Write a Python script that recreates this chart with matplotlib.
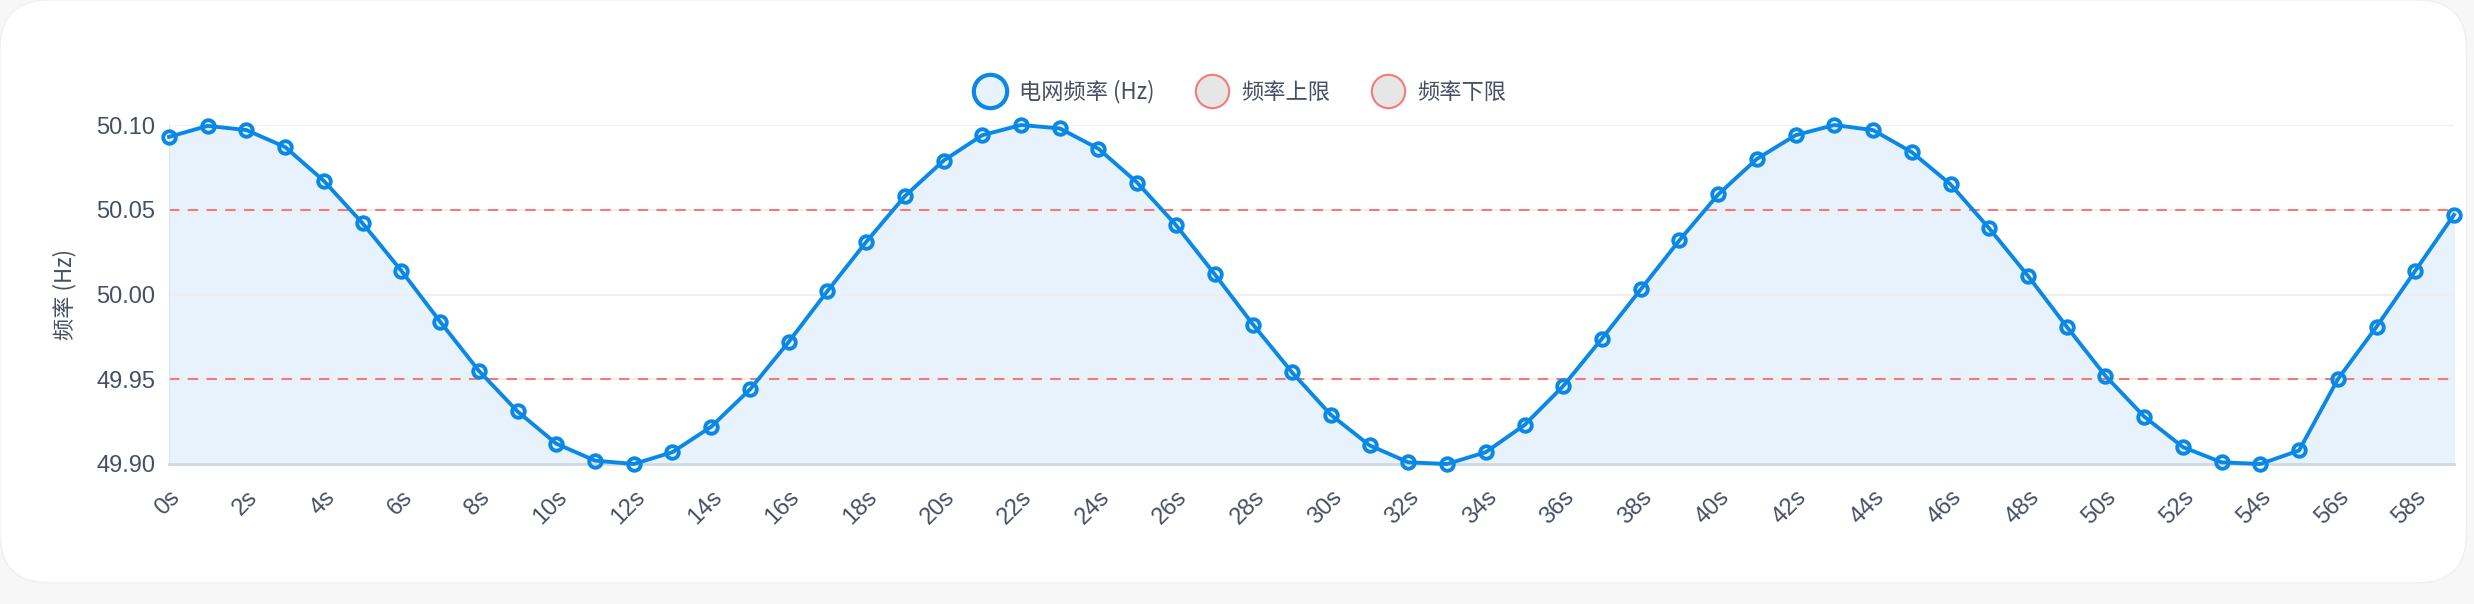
import matplotlib.pyplot as plt
from matplotlib.lines import Line2D
from matplotlib.patches import FancyBboxPatch

plt.rcParams["font.family"] = ["Liberation Sans", "Noto Sans CJK SC", "DejaVu Sans"]

seconds = list(range(60))
freq = [50.093, 50.0995, 50.097, 50.087, 50.067, 50.042, 50.014, 49.984, 49.955, 49.931,
        49.912, 49.902, 49.900, 49.907, 49.922, 49.944, 49.972, 50.002, 50.031, 50.058,
        50.079, 50.094, 50.100, 50.098, 50.086, 50.066, 50.041, 50.012, 49.982, 49.954,
        49.929, 49.911, 49.901, 49.900, 49.907, 49.923, 49.946, 49.974, 50.003, 50.032,
        50.059, 50.080, 50.094, 50.100, 50.097, 50.084, 50.065, 50.039, 50.011, 49.981,
        49.952, 49.928, 49.910, 49.901, 49.900, 49.908, 49.950, 49.981, 50.014, 50.047]
upper_limit = 50.05
lower_limit = 49.95
y_ticks = [49.90, 49.95, 50.00, 50.05, 50.10]

BLUE = "#0a88e6"
TEXT = "#464f63"
RED = "#f47a7a"
CJK = ["Noto Sans CJK SC", "DejaVu Sans"]

fig = plt.figure(figsize=(24.74, 6.04), dpi=100)
fig.patch.set_facecolor("#f7f7f7")
fig.patches.append(FancyBboxPatch((0.0, 0.035), 0.997, 0.965, boxstyle="round,pad=0,rounding_size=0.02",
                                  transform=fig.transFigure, facecolor="white",
                                  edgecolor="#f0f0f0", linewidth=1.0, zorder=-1,
                                  mutation_aspect=4.1))
ax = fig.add_axes([169 / 2474, 1 - 464 / 604, (2454 - 169) / 2474, (464 - 125) / 604])
ax.set_facecolor("none")

ax.fill_between(seconds, freq, 49.90, color="#e7f2fc", zorder=1)
ax.axhline(upper_limit, color=RED, linestyle=(0, (5, 4)), linewidth=1.5, zorder=2)
ax.axhline(lower_limit, color=RED, linestyle=(0, (5, 4)), linewidth=1.5, zorder=2)
ax.plot(seconds, freq, color=BLUE, linewidth=2.8, marker="o", markersize=9,
        markerfacecolor="none", markeredgewidth=2.8, zorder=3, clip_on=False)

ax.set_xlim(0, 59)
ax.set_ylim(49.90, 50.10)
ax.set_yticks(y_ticks)
ax.set_yticklabels([f"{v:.2f}" for v in y_ticks], fontsize=17, color=TEXT)
ax.set_xticks(seconds[::2])
ax.set_xticklabels([f"{s}s" for s in seconds[::2]], fontsize=17, color=TEXT,
                   rotation=45, ha="right", rotation_mode="anchor")
ax.tick_params(axis="x", length=0, pad=16)
ax.tick_params(axis="y", length=0, pad=10)
ax.grid(axis="y", color="#eeeeee", linewidth=1.3, zorder=0)
for side in ("top", "right"):
    ax.spines[side].set_visible(False)
ax.spines["left"].set_color("#dbe3ee")
ax.spines["bottom"].set_color("#cfd8e3")
ax.spines["bottom"].set_linewidth(2)
ax.set_ylabel("频率 (Hz)", fontsize=16, color=TEXT, labelpad=14, family=CJK)

handles = [
    Line2D([], [], linestyle="none", marker="o", markersize=24, markerfacecolor="#e7f2fc",
           markeredgecolor=BLUE, markeredgewidth=3),
    Line2D([], [], linestyle="none", marker="o", markersize=24, markerfacecolor="#e6e6e6",
           markeredgecolor=RED, markeredgewidth=1.5),
    Line2D([], [], linestyle="none", marker="o", markersize=24, markerfacecolor="#e6e6e6",
           markeredgecolor=RED, markeredgewidth=1.5),
]
fig.legend(handles, ["电网频率 (Hz)", "频率上限", "频率下限"], loc="center",
           bbox_to_anchor=(0.5, 1 - 92 / 604), ncol=3, frameon=False,
           prop={"family": CJK, "size": 16},
           labelcolor=TEXT, handletextpad=0.3, columnspacing=1.6)

fig.savefig("out.png", dpi=100)
